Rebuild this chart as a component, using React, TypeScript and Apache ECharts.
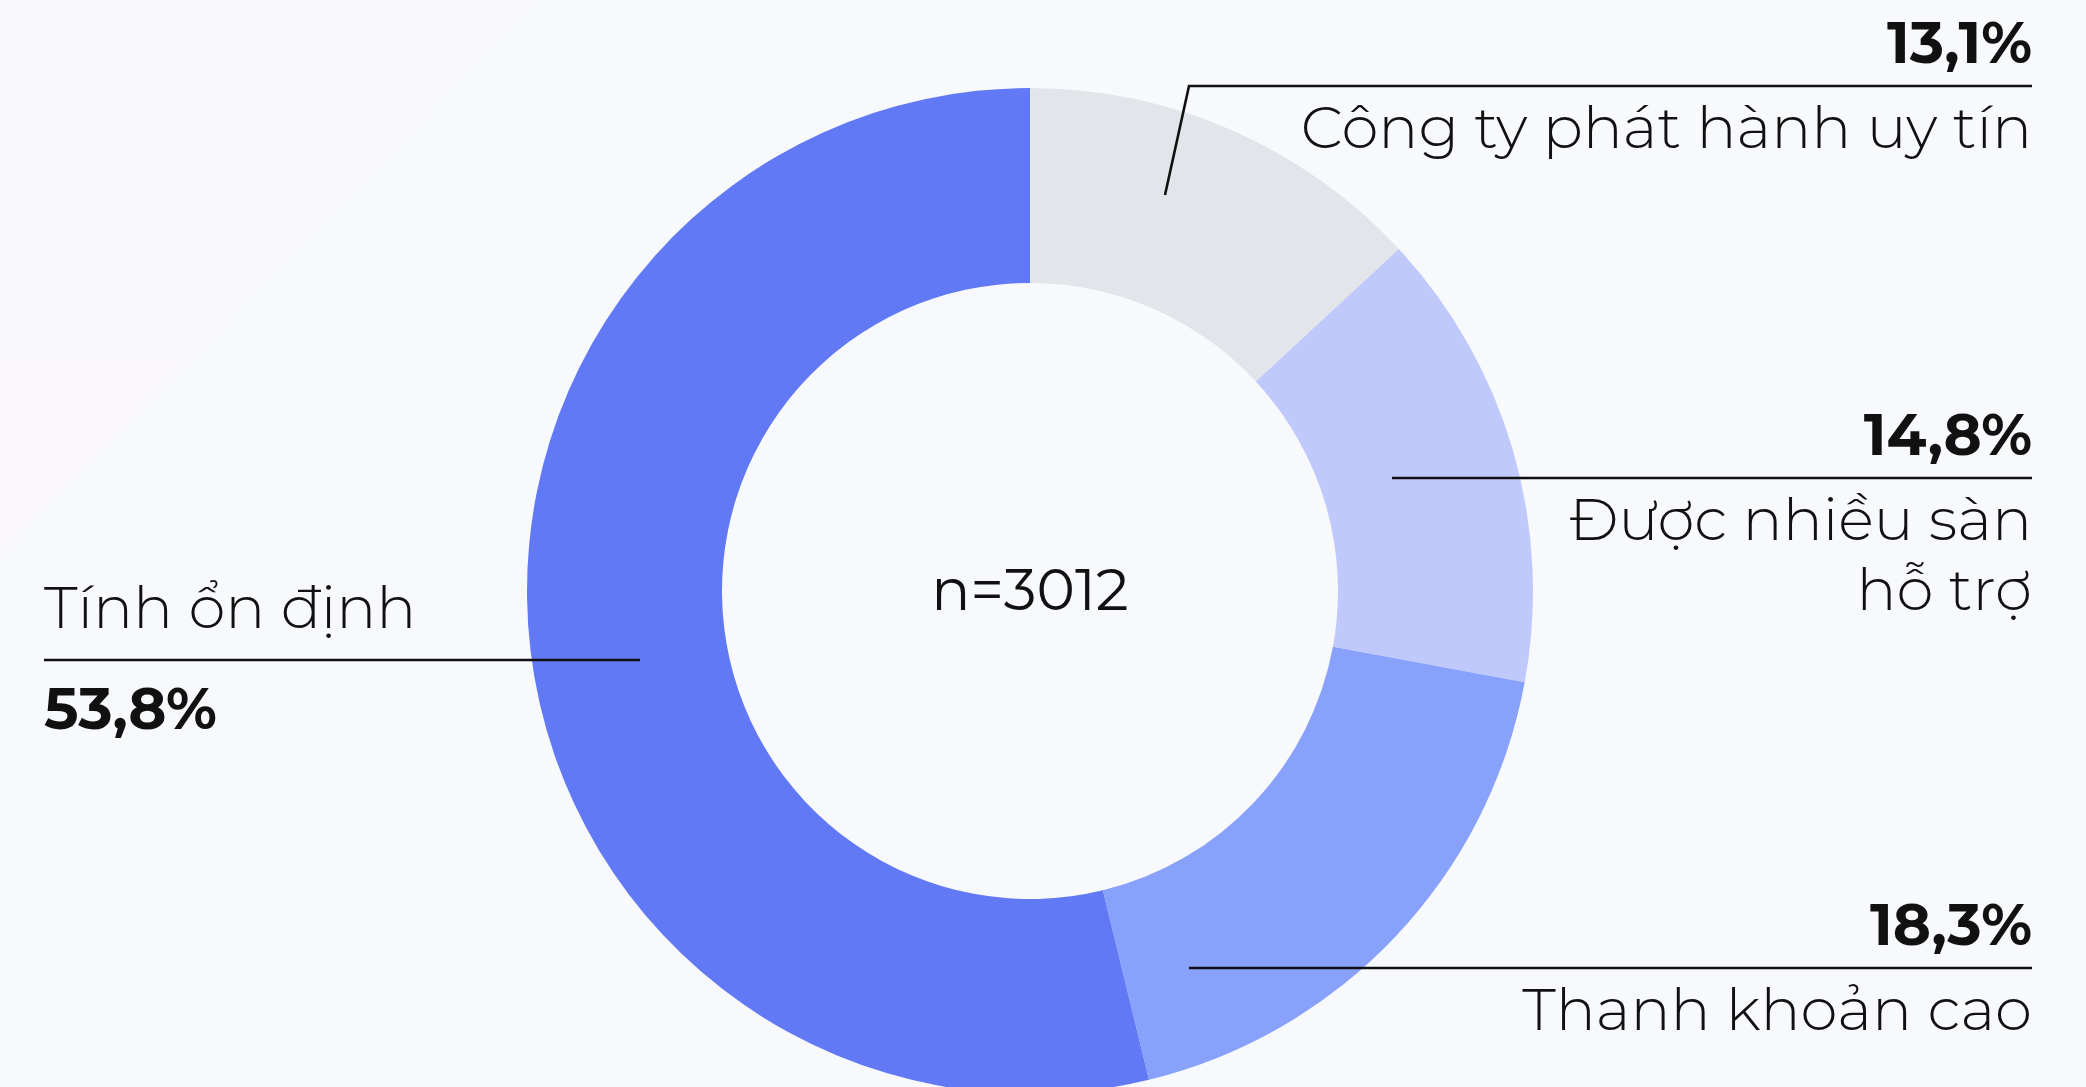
import React, { useEffect, useRef } from "react";
import * as echarts from "echarts";

// ---- data ----
const categories: string[] = [
  "Công ty phát hành uy tín",
  "Được nhiều sàn\nhỗ trợ",
  "Thanh khoản cao",
  "Tính ổn định",
];
const shares: number[] = [13.1, 14.8, 18.3, 53.8];
const sampleLabel = "n=3012";

// ---- styles / layout ----
const sliceColors = ["#e2e6ea", "#c0c9fb", "#88a2fc", "#6279f6"];
const W = 2086;
const H = 1087;
const CENTER: [number, number] = [1030, 591];
const RADII: [number, number] = [308, 503];
const FONT = "Montserrat, 'Open Sans', 'Noto Sans', sans-serif";
const RIGHT_EDGE = 2032;
const LEFT_EDGE = 44;
const NAME_SIZE = 59.5;
const VALUE_SIZE = 58;
// per-slice callout: start point inside slice, elbow, horizontal line y, side
const CALLOUTS = [
  { start: [1165, 195], elbow: [1189, 86], lineY: 86, side: "right" },
  { start: [1392, 478], elbow: [1392, 478], lineY: 478, side: "right" },
  { start: [1189, 968], elbow: [1189, 968], lineY: 968, side: "right" },
  { start: [640, 660], elbow: [640, 660], lineY: 660, side: "left" },
];
const V_LH = 88;
const N_LH = 80;
const M_LH = 60;
const L_LH = 102;

const fmt = (v: number) => v.toFixed(1).replace(".", ",") + "%";

export default function App() {
  const ref = useRef<HTMLDivElement>(null);
  useEffect(() => {
    if (!ref.current) return;
    const chart = echarts.init(ref.current, null, { renderer: "svg" });
    const data = categories.map((name, i) => ({
      name,
      value: shares[i],
      itemStyle: { color: sliceColors[i] },
    }));
    const leaderLines = CALLOUTS.map((c) => ({
      type: "polyline",
      z: 100,
      silent: true,
      shape: {
        points: [c.start, c.elbow, [c.side === "left" ? LEFT_EDGE : RIGHT_EDGE, c.lineY]],
      },
      style: { stroke: "#111", lineWidth: 2.6, fill: null },
    }));
    chart.setOption({
      animation: false,
      backgroundColor: "#f7f9fd",
      graphic: [
        {
          type: "polygon",
          z: -10,
          silent: true,
          shape: { points: [[0, 0], [535, 0], [0, 555]] },
          style: {
            fill: {
              type: "linear",
              x: 0,
              y: 0,
              x2: 0,
              y2: 1,
              colorStops: [
                { offset: 0, color: "#f9f9fd" },
                { offset: 1, color: "#faf7fb" },
              ],
            },
          },
        },
        {
          type: "text",
          x: CENTER[0],
          y: CENTER[1] - 2,
          silent: true,
          style: {
            text: sampleLabel,
            fill: "#111",
            fontFamily: FONT,
            fontSize: VALUE_SIZE,
            fontWeight: 400,
            textAlign: "center",
            textVerticalAlign: "middle",
          },
        },
        ...leaderLines,
      ],
      series: [
        {
          type: "pie",
          center: CENTER,
          radius: RADII,
          startAngle: 90,
          clockwise: true,
          avoidLabelOverlap: false,
          silent: true,
          emphasis: { disabled: true },
          data,
          label: {
            show: true,
            position: "outside",
            color: "#111",
            fontFamily: FONT,
            formatter: (p: any) => {
              const lines = String(p.name).split("\n");
              const i = p.dataIndex;
              if (CALLOUTS[i].side === "left") {
                return `{ln|${lines.join(" ")}}\n{lv|${fmt(p.value)}}`;
              }
              const parts = [`{v|${fmt(p.value)}}`];
              lines.forEach((l, k) => parts.push(k === 0 ? `{n|${l}}` : `{m|${l}}`));
              return parts.join("\n");
            },
            rich: {
              v: { fontFamily: FONT, fontSize: VALUE_SIZE, fontWeight: 700, lineHeight: V_LH, color: "#111", align: "right" },
              n: { fontFamily: FONT, fontSize: NAME_SIZE, fontWeight: 300, lineHeight: N_LH, color: "#111", align: "right" },
              m: { fontFamily: FONT, fontSize: NAME_SIZE, fontWeight: 300, lineHeight: M_LH, color: "#111", align: "right" },
              ln: { fontFamily: FONT, fontSize: NAME_SIZE, fontWeight: 300, lineHeight: L_LH, color: "#111", align: "left" },
              lv: { fontFamily: FONT, fontSize: VALUE_SIZE, fontWeight: 700, lineHeight: L_LH, color: "#111", align: "left" },
            },
          },
          labelLine: { show: false },
          labelLayout: (params: any) => {
            const c = CALLOUTS[params.dataIndex];
            if (c.side === "left") {
              return {
                x: LEFT_EDGE,
                y: c.lineY - L_LH - 3,
                align: "left",
                verticalAlign: "top",
              };
            }
            return {
              x: RIGHT_EDGE,
              y: c.lineY - V_LH,
              align: "right",
              verticalAlign: "top",
            };
          },
        },
      ],
    });
    return () => chart.dispose();
  }, []);
  return (
    <div
      ref={ref}
      style={{ position: "absolute", left: 0, top: 0, width: W, height: H }}
    />
  );
}
